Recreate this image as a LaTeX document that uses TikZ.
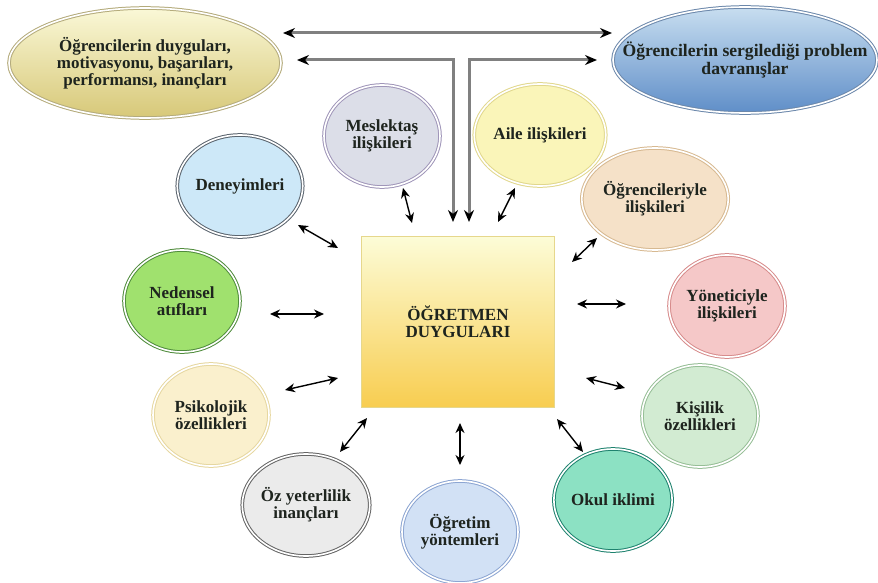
\documentclass[tikz,border=0pt]{standalone}
\usepackage{fontspec}
\setmainfont{Liberation Serif}
\usepackage{xcolor}
\usetikzlibrary{shapes.geometric,arrows.meta}
\newcommand\figfont{\fontsize{8.5}{8.6}\selectfont\bfseries}
\definecolor{txtcolor}{RGB}{30,36,30}
\definecolor{mesfill}{RGB}{220,222,232}  \definecolor{mesline}{RGB}{160,150,185}
\definecolor{denfill}{RGB}{205,232,248}  \definecolor{denline}{RGB}{90,100,110}
\definecolor{ailefill}{RGB}{250,245,185} \definecolor{aileline}{RGB}{225,215,140}
\definecolor{ogrfill}{RGB}{245,225,200}  \definecolor{ogrline}{RGB}{215,185,145}
\definecolor{yonfill}{RGB}{245,200,200}  \definecolor{yonline}{RGB}{215,140,140}
\definecolor{kisfill}{RGB}{210,235,210}  \definecolor{kisline}{RGB}{150,190,150}
\definecolor{okulfill}{RGB}{140,225,195} \definecolor{okulline}{RGB}{30,130,110}
\definecolor{ogtfill}{RGB}{210,225,245}  \definecolor{ogtline}{RGB}{140,165,210}
\definecolor{ozfill}{RGB}{235,235,235}   \definecolor{ozline}{RGB}{100,100,100}
\definecolor{psifill}{RGB}{250,240,205}  \definecolor{psiline}{RGB}{230,215,160}
\definecolor{nedfill}{RGB}{160,225,110}  \definecolor{nedline}{RGB}{80,140,60}
\definecolor{lfttop}{RGB}{250,248,215}   \definecolor{lftbot}{RGB}{215,200,120}
\definecolor{rgttop}{RGB}{200,222,240}   \definecolor{rgtbot}{RGB}{95,142,200}
\definecolor{boxtop}{RGB}{252,252,215}   \definecolor{boxbot}{RGB}{248,205,80}
\definecolor{boxline}{RGB}{230,215,140}

\begin{document}
\begin{tikzpicture}[
  x=0.5pt, y=-0.5pt,
  circ/.style 2 args={ellipse, fill=#1, draw=#2, double=white, double distance=0.8pt,
              line width=0.5pt, minimum width=58pt, minimum height=51pt,
              inner sep=0pt, align=center, font=\figfont, text=txtcolor},
  oval/.style 2 args={ellipse, top color=#1, bottom color=#2, draw=#2!60!gray,
              double=white, double distance=0.8pt, line width=0.5pt,
              inner xsep=-30pt, inner ysep=0pt, align=center, font=\figfont, text=txtcolor},
  arr/.style={{Stealth[length=5pt,width=4.5pt]}-{Stealth[length=5pt,width=4.5pt]}, line width=0.7pt},
  pipe/.style={{Stealth[black,length=6pt,width=5pt]}-{Stealth[black,length=6pt,width=5pt]},
              draw=black!50, line width=1.5pt}
]
  \useasboundingbox (0,0) rectangle (878,583);
  % centre and the two top ovals
  \node[draw=boxline, line width=0.8pt, top color=boxtop, bottom color=boxbot,
        minimum width=96.5pt, minimum height=85.5pt, align=center, font=\figfont, text=txtcolor]
        (box) at (458,322) {ÖĞRETMEN\\DUYGULARI};
  \node[oval={lfttop}{lftbot}, minimum width=136pt, minimum height=55pt]
        (lft) at (145,63) {Öğrencilerin duyguları,\\motivasyonu, başarıları,\\performansı, inançları};
  \node[oval={rgttop}{rgtbot}, minimum width=132pt, minimum height=53pt, font=\figfont\fontsize{8.8}{8.9}\selectfont]
        (rgt) at (745,60) {Öğrencilerin sergilediği problem\\davranışlar};
  % surrounding factors
  \node[circ={mesfill}{mesline}]   (mes)  at (382,136) {Meslektaş\\ilişkileri};
  \node[circ={denfill}{denline}]   (den)  at (240,186) {Deneyimleri};
  \node[circ={ailefill}{aileline}] (aile) at (540,135) {Aile ilişkileri};
  \node[circ={ogrfill}{ogrline}]   (ogr)  at (655,199) {Öğrencileriyle\\ilişkileri};
  \node[circ={yonfill}{yonline}]   (yon)  at (727,306) {Yöneticiyle\\ilişkileri};
  \node[circ={kisfill}{kisline}]   (kis)  at (700,416) {Kişilik\\özellikleri};
  \node[circ={okulfill}{okulline}] (okul) at (613,500) {Okul iklimi};
  \node[circ={ogtfill}{ogtline}]   (ogt)  at (460,532) {Öğretim\\yöntemleri};
  \node[circ={ozfill}{ozline}]     (oz)   at (306,505) {Öz yeterlilik\\inançları};
  \node[circ={psifill}{psiline}]   (psi)  at (211,415) {Psikolojik\\özellikleri};
  \node[circ={nedfill}{nedline}]   (ned)  at (182,301) {Nedensel\\atıfları};
  % top connectors
  \draw[pipe] ([shift={(138,-30)}]lft.center) -- ([shift={(-133,-27)}]rgt.center);
  \draw[pipe] ([shift={(152,-3)}]lft.center) -| ([shift={(-5,-100)}]box.center);
  \draw[pipe] ([shift={(11,-100)}]box.center) |- ([shift={(-148,0)}]rgt.center);
  % links to the centre
  \draw[arr] ([shift={(58,39)}]den.center)  -- ([shift={(-120,-74)}]box.center);
  \draw[arr] ([shift={(21,52)}]mes.center)  -- ([shift={(-46,-99)}]box.center);
  \draw[arr] ([shift={(-25,53)}]aile.center) -- ([shift={(40,-100)}]box.center);
  \draw[arr] ([shift={(-58,39)}]ogr.center) -- ([shift={(114,-60)}]box.center);
  \draw[arr] ([shift={(-101,-2)}]yon.center) -- ([shift={(119,-18)}]box.center);
  \draw[arr] ([shift={(-75,-28)}]kis.center) -- ([shift={(128,56)}]box.center);
  \draw[arr] ([shift={(-30,-48)}]okul.center) -- ([shift={(99,97)}]box.center);
  \draw[arr] ([shift={(0,-67)}]ogt.center)  -- ([shift={(2,101)}]box.center);
  \draw[arr] ([shift={(34,-53)}]oz.center)  -- ([shift={(-91,96)}]box.center);
  \draw[arr] ([shift={(74,-25)}]psi.center) -- ([shift={(-120,56)}]box.center);
  \draw[arr] ([shift={(88,13)}]ned.center)  -- ([shift={(-134,-8)}]box.center);
\end{tikzpicture}
\end{document}
